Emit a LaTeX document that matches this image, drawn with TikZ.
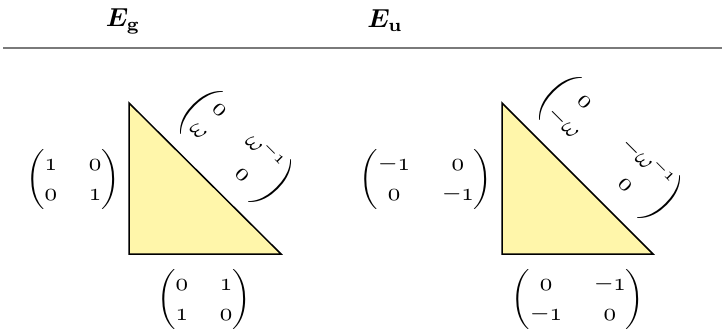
\documentclass[tikz,border=0pt]{standalone}
\usepackage{amsmath,bm}
\newcommand{\osA}{\mathnormal{1}}
\newcommand{\osZ}{\mathnormal{0}}
\definecolor{triyellow}{HTML}{FFF6AA}
\definecolor{rulegray}{HTML}{7A7A7A}
\tikzset{
  tri/.style={draw=black, line width=1.5pt, fill=triyellow, line join=miter},
  mat/.style={inner sep=0pt, scale=2.5},
  head/.style={inner sep=0pt, scale=2.6},
}
\begin{document}
\begin{tikzpicture}[x=1pt,y=-1pt]
\useasboundingbox (0,0) rectangle (722,329);
\setlength{\arraycolsep}{6.4pt}
% headers
\node[head] (hg) at (123,21) {$\bm{E}_{\mathbf{g}}$};
\node[head] (hu) at (385,21) {$\bm{E}_{\mathbf{u}}$};
\coordinate (rl) at (3,48);
\coordinate (rr) at (722,48);
\draw[rulegray, line width=1.8pt] (rl) -- (rr);
% E_g
\coordinate (gA) at (129,103);
\coordinate (gB) at (129,254);
\coordinate (gC) at (281,254);
\draw[tri] (gA) -- (gB) -- (gC) -- cycle;
\node[mat] (gL) at (73,179) {$\begin{pmatrix} \osA & \osZ \\ \osZ & \osA \end{pmatrix}$};
\node[mat] (gD) at (204,299) {$\begin{pmatrix} \osZ & \osA \\ \osA & \osZ \end{pmatrix}$};
\node[mat, rotate=-45] (gH) at (236,147) {$\begin{pmatrix} \osZ & \omega^{-\osA} \\ \omega & \osZ \end{pmatrix}$};
% E_u
\coordinate (uA) at (502,103);
\coordinate (uB) at (502,254);
\coordinate (uC) at (653,254);
\draw[tri] (uA) -- (uB) -- (uC) -- cycle;
\node[mat] (uL) at (426,179) {$\begin{pmatrix} -\osA & \osZ \\ \osZ & -\osA \end{pmatrix}$};
\node[mat] (uD) at (578,299) {$\begin{pmatrix} \osZ & -\osA \\ -\osA & \osZ \end{pmatrix}$};
\node[mat, rotate=-45] (uH) at (610,148) {\setlength{\arraycolsep}{7.6pt}$\begin{pmatrix} \osZ & -\omega^{-\osA} \\ -\omega & \osZ \end{pmatrix}$};
\end{tikzpicture}
\end{document}
